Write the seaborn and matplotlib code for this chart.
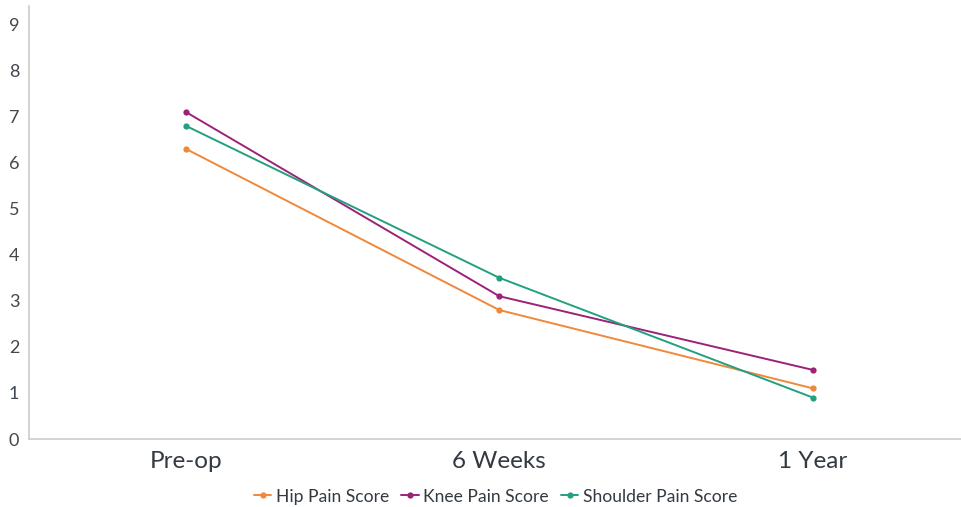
import matplotlib
matplotlib.use("Agg")
import matplotlib.pyplot as plt
import seaborn as sns
import pandas as pd

# Dados
etapas = ["Pre-op", "6 Weeks", "1 Year"]
hip = [6.3, 2.8, 1.1]
knee = [7.1, 3.1, 1.5]
shoulder = [6.8, 3.5, 0.9]
series = ["Hip Pain Score", "Knee Pain Score", "Shoulder Pain Score"]
cores = ["#F0883A", "#9C2279", "#22A07F"]

df = pd.DataFrame({
    "etapa": etapas * 3,
    "pos": list(range(len(etapas))) * 3,
    "valor": hip + knee + shoulder,
    "serie": [s for s in series for _ in etapas],
})

sns.set_style("white")
plt.rcParams["font.family"] = ["Lato", "DejaVu Sans"]

fig = plt.figure(figsize=(9.62, 5.07), dpi=100)
ax = fig.add_axes([29 / 962, 68 / 507, 933 / 962, 433 / 507])

sns.lineplot(
    data=df, x="pos", y="valor", hue="serie", palette=cores,
    marker="o", markersize=4.5, markeredgewidth=0, linewidth=1.4, ax=ax,
)

ax.set_xlim(-0.5, 2.476)
ax.set_ylim(0, 9.4)
ax.set_xticks(range(len(etapas)))
ax.set_xticklabels(etapas, fontsize=17.5, color="#333a42")
ax.set_yticks(range(0, 10))
ax.tick_params(axis="y", labelsize=13, colors="#cccccc", labelcolor="#40474e",
               length=3, width=0.8, pad=4)
ax.tick_params(axis="x", colors="#cccccc", labelcolor="#333a42",
               length=3, width=0.8, pad=6)
ax.set_xlabel("")
ax.set_ylabel("")

for lado in ["top", "right"]:
    ax.spines[lado].set_visible(False)
for lado in ["left", "bottom"]:
    ax.spines[lado].set_color("#cccccc")
    ax.spines[lado].set_linewidth(1.2)

leg = ax.legend(
    loc="upper center", bbox_to_anchor=(0.5, -0.078), ncol=3,
    frameon=False, fontsize=12.6, handlelength=1.0, handletextpad=0.25,
    columnspacing=0.7, labelcolor="#333a42",
)

fig.savefig("out.png", dpi=100)
